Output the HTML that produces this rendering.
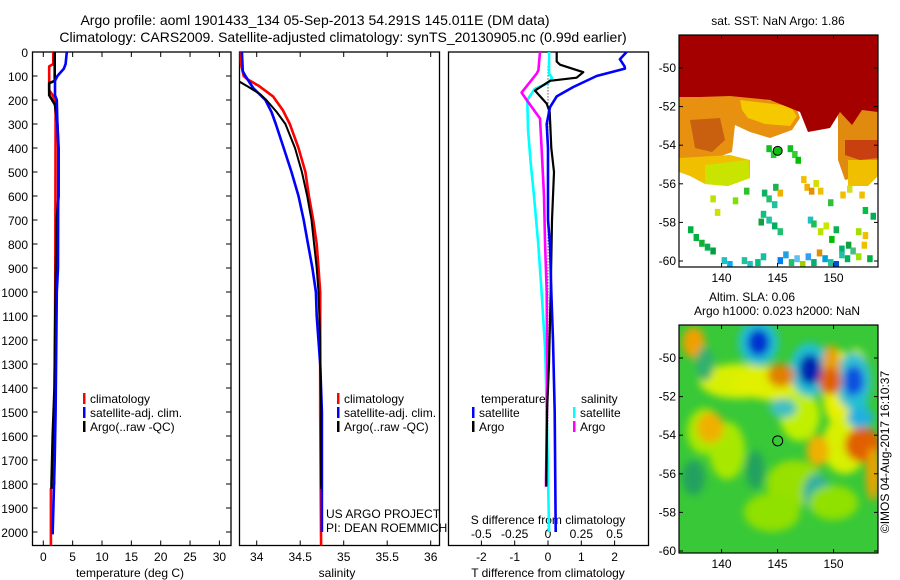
<!DOCTYPE html>
<html><head><meta charset="utf-8"><style>
html,body{margin:0;padding:0;background:#fff}
svg{display:block;font-family:"Liberation Sans",sans-serif}
</style></head><body>
<svg id="fig" width="900" height="580" viewBox="0 0 900 580" xmlns="http://www.w3.org/2000/svg">
<defs>
<clipPath id="c1"><rect x="32.5" y="52" width="198.5" height="493.5"/></clipPath>
<clipPath id="c2"><rect x="239.5" y="52" width="200" height="493.5"/></clipPath>
<clipPath id="c3"><rect x="448.5" y="52" width="200" height="493.5"/></clipPath>
<clipPath id="cm1"><rect x="679" y="35" width="199" height="232"/></clipPath>
<clipPath id="cm2"><rect x="679" y="325" width="199" height="228"/></clipPath>
<filter id="blur" x="-10%" y="-10%" width="120%" height="120%"><feGaussianBlur stdDeviation="4"/></filter>
</defs>
<text x="315" y="25" font-size="14" text-anchor="middle">Argo profile: aoml 1901433_134 05-Sep-2013 54.291S 145.011E (DM data)</text>
<text x="343" y="42" font-size="14" text-anchor="middle">Climatology: CARS2009. Satellite-adjusted climatology: synTS_20130905.nc (0.99d earlier)</text>
<g id="p1"></g>
<g id="p2"></g>
<g id="p3"></g>
<g id="m1"></g>
<g id="m2"></g>
<text x="778" y="25" font-size="12" text-anchor="middle">sat. SST: NaN Argo: 1.86</text>
<text x="752" y="301" font-size="12" text-anchor="middle">Altim. SLA: 0.06</text>
<text x="777" y="315" font-size="12" text-anchor="middle">Argo h1000: 0.023 h2000: NaN</text>
<text transform="translate(889,452) rotate(-90)" font-size="12" text-anchor="middle">©IMOS 04-Aug-2017 16:10:37</text>
</svg>
<script>
// ---- data ----
const depthTicks=[0,100,200,300,400,500,600,700,800,900,1000,1100,1200,1300,1400,1500,1600,1700,1800,1900,2000];
const tempTicks=[0,5,10,15,20,25,30];
const salTicks=[34,34.5,35,35.5,36];
const salTickLabels=["34","34.5","35","35.5","36"];
const dTTicks=[-2,-1,0,1,2];
const dSTicks=[-0.5,-0.25,0,0.25,0.5];
const dSTickLabels=["-0.5","-0.25","0","0.25","0.5"];

const tClimDepth=[0,50,60,100,160,180,200,260,900,1200,1500,1800,1820,2060];
const tClim=[1.7,1.7,1.0,1.0,1.0,1.6,2.0,2.1,2.05,2.0,1.9,1.85,1.3,1.3];
const tSatDepth=[0,50,70,100,120,180,200,300,400,900,1000,1500,1700,2000,2010];
const tSat=[4.0,3.8,3.5,2.4,2.0,2.0,2.3,2.4,2.55,2.5,2.3,2.1,1.95,1.6,1.6];
const tArgoDepth=[0,120,130,180,220,300,400,600,700,1000,1200,1400,1600,1800,1820];
const tArgo=[1.95,1.95,1.0,1.0,2.0,2.4,2.6,2.6,2.3,2.1,2.0,1.9,1.6,1.4,1.4];

const sClimDepth=[0,50,100,113,140,186,242,300,400,500,600,700,800,900,1000,1500,2060];
const sClim=[33.81,33.82,33.85,33.89,34.02,34.19,34.30,34.38,34.48,34.56,34.60,34.65,34.69,34.71,34.73,34.73,34.74];
const sSatDepth=[0,80,100,150,200,250,300,400,500,600,700,800,900,1000,1100,1300,1500,2000];
const sSat=[33.83,33.84,33.87,33.96,34.10,34.17,34.22,34.31,34.40,34.48,34.54,34.59,34.64,34.68,34.69,34.73,34.75,34.75];
const sArgoDepth=[0,117,144,176,200,250,300,400,500,600,700,800,900,1000,1200,1500,1820];
const sArgo=[33.70,33.77,33.90,34.04,34.11,34.23,34.33,34.44,34.52,34.58,34.63,34.66,34.69,34.71,34.73,34.74,34.74];

const dTSatDepth=[0,30,60,69,100,146,185,230,300,400,700,800,1000,1200,1500,2000];
const dTSat=[2.36,2.16,2.3,2.31,1.46,0.76,0.26,0.06,-0.04,0,0,0.06,0.1,0.15,0.2,0.23];
const dTArgoDepth=[0,40,53,84,107,120,161,215,250,400,500,700,1000,1300,1500,1810];
const dTArgo=[0.26,0.26,0.36,1.06,0.86,0.06,-0.39,-0.04,0.05,0.1,0.18,0.12,0.08,0.03,-0.03,-0.05];
const dSSatDepth=[0,90,108,130,154,200,323,462,600,802,1000,1250,1500,2000];
const dSSat=[0.008,0.008,0.03,0.0,-0.1,-0.155,-0.15,-0.13,-0.105,-0.073,-0.048,-0.02,-0.01,0.008];
const dSArgoDepth=[0,76,90,169,200,277,400,600,802,1000,1380,1789,1812];
const dSArgo=[-0.06,-0.072,-0.085,-0.198,-0.16,-0.06,-0.048,-0.03,-0.022,-0.01,-0.005,-0.015,-0.015];

const lonTicks=[140,145,150];
const latTicks=[-50,-52,-54,-56,-58,-60];
const floatLon=145.011, floatLat=-54.291;
// SST map scattered cells: lon, lat, colour
const sstCellLon=[144.0,144.4,145.9,146.3,146.6,144.6,143.6,144.0,144.5,145.0,147.1,147.4,147.8,148.2,148.6,149.5,150.6,151.2,152.3,152.6,153.3,143.5,144.0,144.5,145.0,143.3,147.7,148.0,148.6,149.1,149.6,150.0,150.5,151.1,152.0,152.6,137.0,137.5,138.0,138.5,139.0,140.0,140.5,141.8,142.3,143.0,143.5,145.0,145.5,146.0,146.5,147.0,147.5,148.0,148.5,149.0,149.5,150.0,150.5,151.0,151.5,152.0,152.5,153.0,139.0,139.4,141.0,142.0];
const sstCellLat=[-54.0,-54.3,-54.0,-54.3,-54.6,-56.0,-56.3,-56.6,-56.9,-56.3,-55.6,-56.0,-56.2,-55.8,-56.2,-56.8,-56.4,-56.1,-56.4,-57.2,-57.5,-57.4,-57.7,-58.0,-58.3,-57.8,-57.7,-57.9,-58.3,-58.0,-58.7,-58.2,-59.2,-59.0,-58.3,-58.5,-58.2,-58.6,-58.9,-59.1,-59.3,-59.8,-60.0,-59.8,-60.0,-59.9,-59.6,-59.8,-59.5,-59.9,-59.7,-60.0,-59.6,-59.9,-59.4,-59.7,-59.9,-60.0,-59.5,-59.7,-59.3,-59.6,-59.0,-59.7,-56.6,-57.3,-56.7,-56.2];
const sstCellCol=["#10c020","#20d030","#10c020","#30d030","#00c000","#20b050","#10b060","#20c070","#20c0a0","#f0b000","#f0c000","#f0b000","#e09000","#d0e000","#f0c000","#30c040","#f0c000","#d0e020","#f0c000","#00c040","#00b050","#10c080","#20c0a0","#00b060","#20c070","#10a040","#20c0c0","#20c050","#c0e000","#c8e800","#00c000","#10b050","#00b070","#10a040","#a0e000","#f0c000","#00b040","#00b040","#10b030","#00b050","#00a040","#20c0c0","#00b0f0","#20c0a0","#20c0c0","#00c080","#10c0a0","#0080f0","#20a0e0","#20c070","#60c0f0","#a0d000","#30a0f0","#00b070","#e09000","#00a0e0","#20c0a0","#0050d0","#20c0a0","#00b060","#40c080","#a0e000","#f0c000","#00b040","#c0e000","#d0e000","#80e000","#30c030"];
// SLA blobs: lon, lat, lon-radius, lat-radius, colour
const slaLon=[137.5,141.5,145.0,150.5,152.0,138.5,140.5,147.0,151.0,143.3,143.3,147.9,147.9,151.8,151.8,152.3,152.4,145.3,145.5,139.0,149.8,149.7,152.6,148.6,143.0,137.5,146.5,148.5,144.5,150.0,138.5,153.5];
const slaLat=[-49.2,-51.2,-51.3,-51.6,-51.0,-53.8,-54.8,-53.0,-54.5,-49.2,-49.2,-50.6,-50.6,-51.2,-51.2,-52.8,-53.1,-50.9,-52.6,-53.6,-50.5,-51.2,-54.5,-54.8,-55.8,-56.2,-56.5,-57.0,-58.0,-57.5,-50.3,-56.0];
const slaRx=[1.0,3.5,4.0,1.5,1.2,1.6,1.6,1.8,2.0,1.8,1.0,1.8,1.0,1.6,0.9,0.8,1.2,1.2,1.2,1.2,0.8,1.0,1.6,1.0,0.8,1.0,2.5,1.2,2.5,2.2,0.8,0.6];
const slaRy=[0.8,0.9,0.9,2.0,1.5,1.2,1.5,1.3,1.5,1.2,0.7,1.4,0.8,1.5,0.8,1.0,0.5,0.6,0.5,0.8,1.2,0.7,0.9,0.8,1.0,0.9,1.2,1.0,1.0,0.9,0.9,1.4];
const slaCol=["#f0a000","#d8f000","#e0f000","#e8f000","#c8f000","#a8e800","#a8e800","#c0f000","#d8f000","#20c0d0","#0030d0","#20c0d0","#0020b0","#30c0d0","#1050e0","#20c0d0","#20b0e0","#e08000","#40c0c0","#f0b000","#e8a000","#e06000","#e06000","#f0b000","#20a060","#20a060","#98e000","#30b0a0","#90e000","#90e000","#30b070","#f0a000"];

const NS="http://www.w3.org/2000/svg";
function mk(parent,tag,attrs,name){const e=document.createElementNS(NS,tag);for(const k in attrs)e.setAttribute(k,attrs[k]);


parent.appendChild(e);return e;}
function txt(parent,x,y,s,anchor,size,name){const t=mk(parent,'text',{x:x,y:y,'font-size':size||12,'text-anchor':anchor||'start'},name);t.textContent=s;return t;}

const Y0=52, PY=0.24;
const yD=d=>Y0+d*PY;
function xLin(v0,p0,scale){return v=>p0+(v-v0)*scale;}
const x1=xLin(0,43.3,5.87), x2=xLin(34,256.7,87), x3=xLin(0,548,33.3), x3s=xLin(0,548,133.3);

function frame(g,x0,x1p,name){mk(g,'rect',{x:x0,y:52,width:x1p-x0,height:493.5,fill:'none',stroke:'#000','stroke-width':1.3},name);}
function stepLine(g,clip,depths,vals,xf,color,w,name){
 let d='';for(let i=0;i<depths.length;i++){const x=xf(vals[i]),y=yD(depths[i]);d+=(i?'L':'M')+x.toFixed(1)+' '+y.toFixed(1);}
 mk(g,'path',{d:d,fill:'none',stroke:color,'stroke-width':w,'clip-path':'url(#'+clip+')','stroke-linejoin':'round'},name);
}
function legend(g,x,y,color,label,name){mk(g,'rect',{x:x,y:y-10,width:2.5,height:11,fill:color},name+'-marker');txt(g,x+7,y,label,'start',12,name+'-label');}

// Panel 1
const p1=document.getElementById('p1');
frame(p1,32.5,231,'temperature-frame');
depthTicks.forEach(d=>{const y=yD(d);
 mk(p1,'line',{x1:32.5,x2:37.5,y1:y,y2:y,stroke:'#000'},'depth-tick');
 mk(p1,'line',{x1:226,x2:231,y1:y,y2:y,stroke:'#000'},'depth-tick-right');
 txt(p1,28,y+5,String(d),'end',12,'depth-tick-label');});
tempTicks.forEach(t=>{const x=x1(t);
 mk(p1,'line',{x1:x,x2:x,y1:545.5,y2:540.5,stroke:'#000'},'temp-tick');
 mk(p1,'line',{x1:x,x2:x,y1:52,y2:57,stroke:'#000'},'temp-tick-top');
 txt(p1,x,561,String(t),'middle',12,'temp-tick-label');});
txt(p1,130,577,'temperature (deg C)','middle',12,'temperature-axis-title');
stepLine(p1,'c1',tClimDepth,tClim,x1,'#ff0000',2.6,'temp-climatology-line');
stepLine(p1,'c1',tArgoDepth,tArgo,x1,'#000000',2.6,'temp-argo-line');
stepLine(p1,'c1',tSatDepth,tSat,x1,'#0000ff',2.6,'temp-satellite-line');
legend(p1,83,403,'#ff0000','climatology','legend-climatology');
legend(p1,83,417,'#0000ff','satellite-adj. clim.','legend-satellite');
legend(p1,83,431,'#000000','Argo(..raw -QC)','legend-argo');

// Panel 2
const p2=document.getElementById('p2');
frame(p2,239.5,439.5,'salinity-frame');
salTicks.forEach((s,i)=>{const x=x2(s);
 mk(p2,'line',{x1:x,x2:x,y1:545.5,y2:540.5,stroke:'#000'},'sal-tick');
 mk(p2,'line',{x1:x,x2:x,y1:52,y2:57,stroke:'#000'},'sal-tick-top');
 txt(p2,x,561,salTickLabels[i],'middle',12,'sal-tick-label');});
txt(p2,337,577,'salinity','middle',12,'salinity-axis-title');
stepLine(p2,'c2',sClimDepth,sClim,x2,'#ff0000',2.6,'sal-climatology-line');
stepLine(p2,'c2',sSatDepth,sSat,x2,'#0000ff',2.6,'sal-satellite-line');
stepLine(p2,'c2',sArgoDepth,sArgo,x2,'#000000',2,'sal-argo-line');
legend(p2,337,403,'#ff0000','climatology','legend-sal-climatology');
legend(p2,337,417,'#0000ff','satellite-adj. clim.','legend-sal-satellite');
legend(p2,337,431,'#000000','Argo(..raw -QC)','legend-sal-argo');
txt(p2,326,518,'US ARGO PROJECT','start',12,'credit-project');
txt(p2,326,532,'PI: DEAN ROEMMICH','start',12,'credit-pi');

// Panel 3
const p3=document.getElementById('p3');
frame(p3,448.5,648.5,'difference-frame');
mk(p3,'line',{x1:548,x2:548,y1:yD(60),y2:yD(2000),stroke:'#000','stroke-width':1,'stroke-dasharray':'1 2'},'zero-line');
dTTicks.forEach(t=>{const x=x3(t);
 mk(p3,'line',{x1:x,x2:x,y1:545.5,y2:540.5,stroke:'#000'},'dT-tick');
 txt(p3,x,561,String(t),'middle',12,'dT-tick-label');});
dSTicks.forEach((s,i)=>{txt(p3,x3s(s),538,dSTickLabels[i],'middle',12,'dS-tick-label');});
txt(p3,548,577,'T difference from climatology','middle',12,'dT-axis-title');
txt(p3,548,524,'S difference from climatology','middle',12,'dS-axis-title');
stepLine(p3,'c3',dSSatDepth,dSSat,x3s,'#00ffff',2.6,'dS-satellite-line');
stepLine(p3,'c3',dSArgoDepth,dSArgo,x3s,'#ff00ff',2.6,'dS-argo-line');
stepLine(p3,'c3',dTArgoDepth,dTArgo,x3,'#000000',2.2,'dT-argo-line');
stepLine(p3,'c3',dTSatDepth,dTSat,x3,'#0000ff',2.6,'dT-satellite-line');
txt(p3,481,403,'temperature','start',12,'legend-temperature-heading');
legend(p3,472,417,'#0000ff','satellite','legend-dT-satellite');
legend(p3,472,431,'#000000','Argo','legend-dT-argo');
txt(p3,581,403,'salinity','start',12,'legend-salinity-heading');
legend(p3,573,417,'#00ffff','satellite','legend-dS-satellite');
legend(p3,573,431,'#ff00ff','Argo','legend-dS-argo');

// Maps
const mxf=lon=>679+(lon-136.2)*11.2;
function mapAxes(g,top,bot,lat50,name){
 mk(g,'rect',{x:679,y:top,width:199,height:bot-top,fill:'none',stroke:'#000','stroke-width':1.2},name+'-frame');
 const my=lat=>lat50+(-50-lat)*19.3;
 latTicks.forEach(l=>{const y=my(l);
  mk(g,'line',{x1:679,x2:683,y1:y,y2:y,stroke:'#000'},name+'-lat-tick');
  mk(g,'line',{x1:874,x2:878,y1:y,y2:y,stroke:'#000'},name+'-lat-tick-right');
  txt(g,676,y+4,String(l),'end',12,name+'-lat-label');});
 lonTicks.forEach(l=>{const x=mxf(l);
  mk(g,'line',{x1:x,x2:x,y1:bot,y2:bot-4,stroke:'#000'},name+'-lon-tick');
  mk(g,'line',{x1:x,x2:x,y1:top,y2:top+4,stroke:'#000'},name+'-lon-tick-top');
  txt(g,x,bot+15,String(l),'middle',12,name+'-lon-label');});
 return my;
}
const m1=document.getElementById('m1');
const mg1=mk(m1,'g',{'clip-path':'url(#cm1)'},'sst-field');
mk(mg1,'rect',{x:679,y:35,width:199,height:232,fill:'#ffffff'},'sst-background');
mk(mg1,'polygon',{points:'679,95 735,95 795,104 800,118 792,130 770,138 750,132 735,125 732,152 705,162 679,168',fill:'#e89010'},'sst-orange-left');
mk(mg1,'polygon',{points:'690,120 720,118 725,140 712,152 695,148',fill:'#c86010'},'sst-orange-patch');
mk(mg1,'polygon',{points:'679,158 730,155 750,160 750,178 728,186 705,184 690,176 679,172',fill:'#f0c000'},'sst-yellow-left');
mk(mg1,'polygon',{points:'705,165 748,160 750,178 728,186 705,184',fill:'#c8e400'},'sst-yellow-green');
mk(mg1,'polygon',{points:'740,100 790,106 797,116 790,126 765,124 748,118 742,110',fill:'#f5c800'},'sst-yellow-middle');
mk(mg1,'polygon',{points:'838,110 878,108 878,175 860,176 845,180 838,160',fill:'#e08a10'},'sst-orange-right');
mk(mg1,'polygon',{points:'848,160 878,160 878,176 868,186 848,186',fill:'#f0c000'},'sst-yellow-right');
mk(mg1,'polygon',{points:'679,35 878,35 878,112 862,110 852,125 840,112 830,128 808,132 800,112 770,100 730,96 700,97 679,97',fill:'#a50000'},'sst-dark-red');
mk(mg1,'polygon',{points:'845,140 878,140 878,158 860,160 845,155',fill:'#c84010'},'sst-red-right');
const my1=lat=>68+(-50-lat)*19.3;
sstCellLon.forEach((lon,i)=>{
 mk(mg1,'rect',{x:mxf(lon),y:my1(sstCellLat[i]),width:5.5,height:7,fill:sstCellCol[i]},'sst-cell');});
mapAxes(m1,35,267,68,'sst-map');
mk(m1,'circle',{cx:mxf(floatLon),cy:my1(floatLat),r:4.5,fill:'#10c010',stroke:'#000','stroke-width':1},'sst-float-marker');

const m2=document.getElementById('m2');
const mg2=mk(m2,'g',{'clip-path':'url(#cm2)'},'sla-field');
mk(mg2,'rect',{x:679,y:325,width:199,height:228,fill:'#38c838'},'sla-background');
const my2=lat=>358+(-50-lat)*19.3;
const bl=mk(mg2,'g',{filter:'url(#blur)'},'sla-blobs');
slaLon.forEach((lon,i)=>{
 mk(bl,'ellipse',{cx:mxf(lon),cy:my2(slaLat[i]),rx:slaRx[i]*11.2,ry:slaRy[i]*19.3,fill:slaCol[i]},'sla-blob');});
mapAxes(m2,325,553,358,'sla-map');
mk(m2,'circle',{cx:mxf(floatLon),cy:my2(floatLat),r:5,fill:'none',stroke:'#000','stroke-width':1},'sla-float-marker');
</script>
</body></html>
